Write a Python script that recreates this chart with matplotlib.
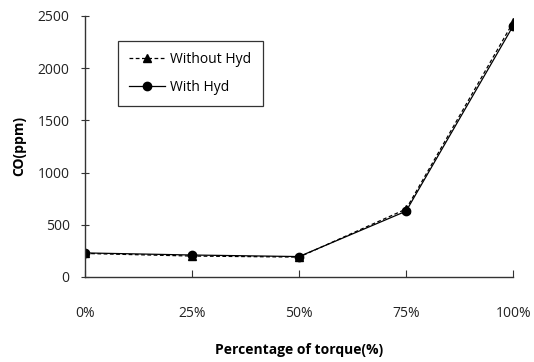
import matplotlib
matplotlib.use("Agg")
import matplotlib.pyplot as plt

# data
torque = ["0%", "25%", "50%", "75%", "100%"]
without_hyd = [225, 200, 190, 650, 2440]
with_hyd = [230, 210, 195, 630, 2405]

plt.rcParams["font.family"] = ["Open Sans", "DejaVu Sans"]
plt.rcParams["font.size"] = 10

fig = plt.figure(figsize=(5.34, 3.62), dpi=100)
ax = fig.add_axes([0.159, 0.235, 0.802, 0.721])

x = list(range(len(torque)))
ax.plot(x, without_hyd, "k--", marker="^", markersize=6, linewidth=0.9,
        dashes=(3, 2), label="Without Hyd")
ax.plot(x, with_hyd, "k-", marker="o", markersize=6, linewidth=0.9,
        label="With Hyd")

ax.set_xlim(0, 4)
ax.set_ylim(0, 2500)
ax.set_xticks(x)
ax.set_xticklabels(torque)
ax.set_yticks([0, 500, 1000, 1500, 2000, 2500])

for s in ["top", "right"]:
    ax.spines[s].set_visible(False)
for s in ["left", "bottom"]:
    ax.spines[s].set_color("#333333")
    ax.spines[s].set_linewidth(1.0)

ax.tick_params(axis="x", direction="in", length=5, pad=21, colors="#333333")
ax.tick_params(axis="y", direction="inout", length=6, pad=8, colors="#333333")
for lab in ax.get_xticklabels() + ax.get_yticklabels():
    lab.set_color("#222222")

ax.set_xlabel("Percentage of torque(%)", fontweight="bold", labelpad=16)
ax.set_ylabel("CO(ppm)", fontweight="bold", labelpad=8)

leg = ax.legend(loc="upper left", bbox_to_anchor=(0.06, 0.93), frameon=True,
                fancybox=False, edgecolor="black", handlelength=2.6,
                labelspacing=0.9, borderpad=0.8, handletextpad=0.4,
                fontsize=10)
leg.get_frame().set_linewidth(0.9)

fig.savefig("out.png", dpi=100)
